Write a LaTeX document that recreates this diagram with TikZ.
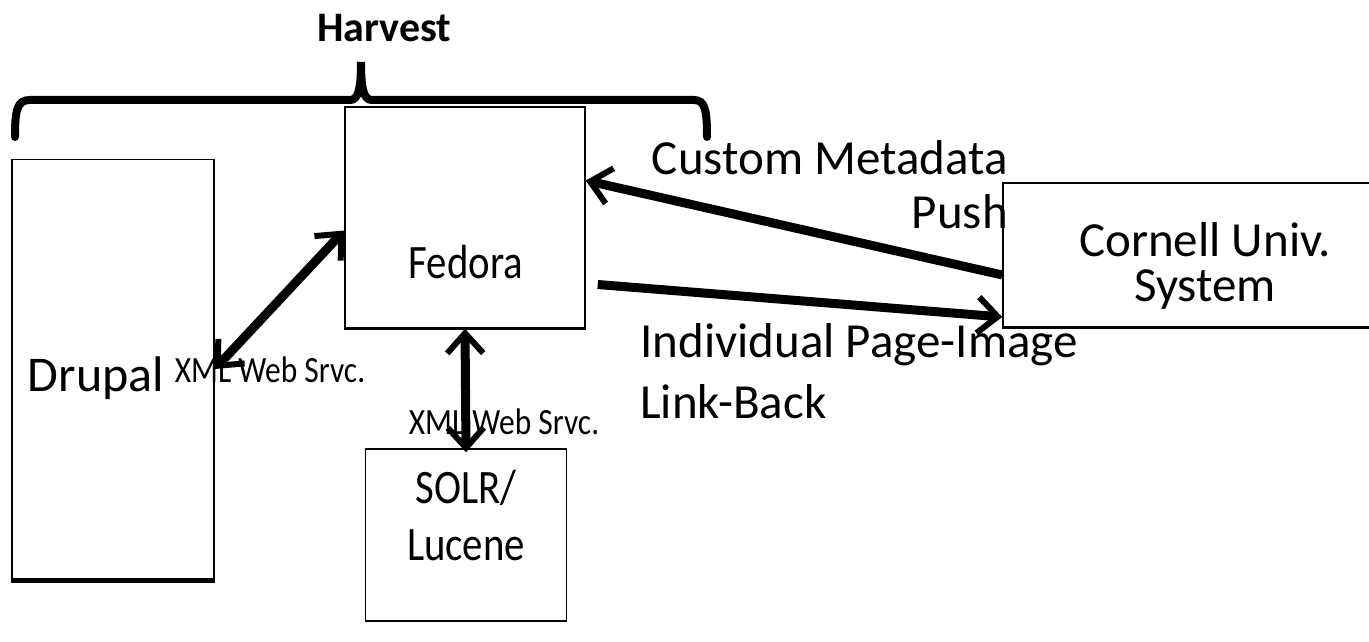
\documentclass[tikz,border=0pt]{standalone}
\usepackage{fontspec}
\setmainfont{Carlito}
\newfontfamily\narrowfont{Carlito}[FakeStretch=0.85]
\usetikzlibrary{arrows.meta,calc,positioning}

\tikzset{
  box/.style={draw, line width=1.5pt, inner sep=0pt},
  bigtext/.style={font=\fontsize{49}{57}\selectfont, inner sep=0pt},
  boxtext/.style={font=\narrowfont\fontsize{48}{57}\selectfont, inner sep=0pt},
  srvc/.style={font=\narrowfont\fontsize{37}{44}\selectfont, inner sep=0pt},
  barb/.tip={Straight Barb[length=20pt,width=36pt,line width=6pt]},
  link/.style={line width=9pt, -barb},
  twoway/.style={line width=9pt, barb-barb}
}

\begin{document}
\begin{tikzpicture}[x=1pt,y=-1pt]
\useasboundingbox (0,0) rectangle (1369,642);

% boxes
\node[box, minimum width=202pt, minimum height=419pt] (drupal) at (113,369) {};
\node[box, minimum width=240pt, minimum height=221pt] (fedora) at (465,217.5) {};
\node[box, minimum width=201pt, minimum height=172pt] (solr) at (466,535) {};
\node[box, minimum width=370pt, minimum height=144pt] (cornell) at (1188,255) {};
\draw[line width=5pt] ([yshift=-1pt]drupal.south west) -- ([yshift=-1pt]drupal.south east);
\draw[line width=3pt] (fedora.south west) -- (fedora.south east);
\draw[line width=3pt] (cornell.south west) -- (cornell.south east);

\node[font=\fontsize{50}{60}\selectfont, inner sep=0pt] (drupaltxt) at (96,378) {Drupal};
\node[boxtext] (fedoratxt) at (466,262) {Fedora};
\node[boxtext] (solrtxt) at (466,488) {SOLR/};
\node[boxtext, below=24pt of solrtxt] (lucenetxt) {Lucene};
\node[bigtext] (cornelltxt) at (1205,240) {Cornell Univ.};
\node[bigtext] (systemtxt) at (1205,290) {System};

% harvest brace
\draw[line width=8pt, line cap=round] (15,137) .. controls (15,110) and (17,100) .. (30,100)
  -- (350,100) .. controls (358,100) and (361,90) .. (361,62)
  .. controls (361,90) and (364,100) .. (372,100) -- (694,100)
  .. controls (705,100) and (707,110) .. (707,137);
\node[font=\bfseries\fontsize{42}{50}\selectfont, inner sep=0pt] (harvest) at (384,28) {Harvest};

% connectors
\draw[link] ([yshift=-20pt]cornell.west) -- ([yshift=37pt]fedora.east);
\draw[link] ([xshift=12pt,yshift=-67pt]fedora.east) -- ([yshift=-62pt]cornell.west);
\draw[twoway] (drupal.east) -- ([yshift=-13pt]fedora.west);
\draw[twoway] (fedora.south) -- ([yshift=-4pt]solr.north);

\node[srvc] (srvcone) at (270,370) {XML Web Srvc.};
\node[srvc] (srvctwo) at (504,422) {XML Web Srvc.};

\node[bigtext, anchor=east] (customtxt) at (1008,158) {Custom Metadata};
\node[bigtext, anchor=east] (pushtxt) at (1008,212) {Push};
\node[bigtext, anchor=west] (indivtxt) at (640,345) {Individual Page-Image};
\node[bigtext, anchor=west] (linktxt) at (640,402) {Link-Back};
\end{tikzpicture}
\end{document}
